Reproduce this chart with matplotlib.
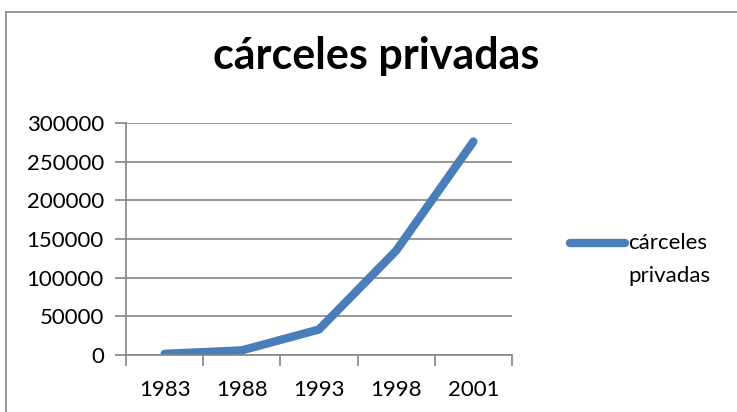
import matplotlib.pyplot as plt
from matplotlib.lines import Line2D

years = ["1983", "1988", "1993", "1998", "2001"]
prisoners = [1500, 6000, 33000, 135000, 276000]
y_ticks = [0, 50000, 100000, 150000, 200000, 250000, 300000]

line_color = "#4A7EBB"
grid_color = "#868686"

plt.rcParams['font.family'] = ['Lato', 'DejaVu Sans']

fig = plt.figure(figsize=(7.37, 4.12), dpi=100)
ax = fig.add_axes([126 / 737, 1 - 355 / 412, 386 / 737, 232 / 412])

# outer chart frame (only top and left edges are inside the picture)
frame_top = 1 - 11.5 / 412
frame_left = 5.5 / 737
fig.lines.append(Line2D([frame_left, 1.0], [frame_top, frame_top],
                        transform=fig.transFigure, color="#888888", linewidth=1.2))
fig.lines.append(Line2D([frame_left, frame_left], [0.0, frame_top],
                        transform=fig.transFigure, color="#888888", linewidth=1.2))

x = list(range(len(years)))
ax.plot(x, prisoners, color=line_color, linewidth=6, solid_capstyle='round',
        solid_joinstyle='round')

ax.set_xlim(-0.5, len(years) - 0.5)
ax.set_ylim(0, 300000)
ax.set_yticks(y_ticks)
ax.set_yticklabels([str(v) for v in y_ticks])
ax.set_xticks([i - 0.5 for i in range(len(years) + 1)])
ax.set_xticklabels([])
ax.set_xticks(x, minor=True)
ax.set_xticklabels(years, minor=True)
ax.tick_params(axis='x', which='minor', length=0, pad=18, labelsize=16)
ax.tick_params(axis='x', which='major', length=8, color=grid_color, width=1.2)
ax.tick_params(axis='y', length=8, color=grid_color, width=1.2, labelsize=16, pad=8)

ax.grid(axis='y', color=grid_color, linewidth=1.2)
ax.set_axisbelow(True)
for side in ['top', 'right']:
    ax.spines[side].set_visible(False)
for side in ['left', 'bottom']:
    ax.spines[side].set_color(grid_color)
    ax.spines[side].set_linewidth(1.2)

fig.text(376 / 737, 1 - 69 / 412, "cárceles privadas", ha='center', va='baseline',
         fontsize=31, fontweight='bold')

# legend, drawn by hand to match the Excel layout
fig.lines.append(Line2D([570 / 737, 625 / 737], [1 - 243 / 412, 1 - 243 / 412],
                        transform=fig.transFigure, color=line_color, linewidth=6,
                        solid_capstyle='round'))
fig.text(628 / 737, 1 - 243 / 412, "cárceles", ha='left', va='center', fontsize=16)
fig.text(628 / 737, 1 - 276 / 412, "privadas", ha='left', va='center', fontsize=16)

fig.savefig("out.png", dpi=100)
